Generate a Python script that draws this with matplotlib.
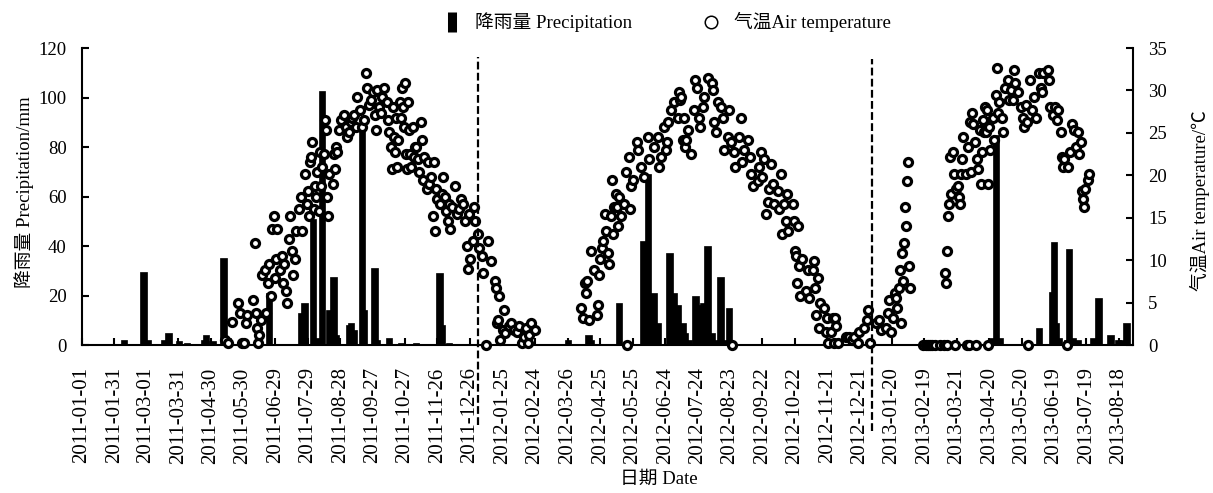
import pandas as pd
import matplotlib
matplotlib.use("Agg")
import matplotlib.pyplot as plt
import matplotlib.dates as mdates
from matplotlib.lines import Line2D

plt.rcParams["font.family"] = ["Liberation Serif", "Noto Sans CJK SC"]
plt.rcParams["font.size"] = 13.5
plt.rcParams["axes.unicode_minus"] = False

# ---- precipitation (mm), rain days only ----
rain_2011_dates = ["02-09", "02-27", "03-03", "03-18", "03-22", "04-01", "04-08", "04-24",
                   "04-26", "05-02", "05-12", "05-16", "06-23", "07-23", "07-26", "08-03",
                   "08-06", "08-11", "08-18", "08-22", "08-24", "09-05", "09-07", "09-10",
                   "09-17", "09-19", "09-29", "10-01", "10-12", "10-24", "11-06", "11-28",
                   "11-30", "12-07"]
rain_2011 = [2, 29.5, 2, 2, 5, 1.5, 1, 2, 4, 1.5, 35, 3, 21, 13, 17, 51, 3, 102.5, 14, 27.5,
             4, 8, 9, 6, 87, 14, 31, 2, 3, 1, 1, 29, 8, 1]

rain_2012_dates = ["03-26", "04-14", "04-16", "05-12", "06-04", "06-08", "06-13", "06-17",
                   "06-28", "07-02", "07-06", "07-10", "07-12", "07-16", "07-22", "07-25",
                   "07-29", "08-02", "08-06", "08-10", "08-14", "08-17", "08-22"]
rain_2012 = [2, 4, 2, 17, 42, 69, 21, 9, 37, 21, 16, 9, 5, 2, 20, 16, 17, 40, 5, 2, 27.5, 2, 15]

rain_2013_dates = ["04-22", "04-26", "04-30", "06-05", "06-17", "06-19", "06-21", "06-23",
                   "07-01", "07-03", "07-06", "07-11", "07-25", "07-30", "08-10", "08-17",
                   "08-21", "08-25"]
rain_2013 = [3, 85, 3, 7, 21.5, 41.5, 9, 3, 2, 39, 3, 2, 3, 19, 4, 2, 2, 9]

# ---- daily air temperature (deg C) ----
temp_2011_dates = [
    "05-13", "05-16", "05-20", "05-25", "05-27", "05-29", "05-31", "06-02", "06-03", "06-08",
    "06-10", "06-11", "06-12", "06-13", "06-14", "06-16", "06-17", "06-19", "06-20", "06-22",
    "06-23", "06-25", "06-26", "06-28", "06-29", "06-30", "07-01", "07-03", "07-05", "07-06",
    "07-07", "07-09", "07-10", "07-12", "07-13", "07-14", "07-15", "07-17", "07-18", "07-21",
    "07-23", "07-24", "07-26", "07-28", "07-29", "07-30", "07-31", "08-01", "08-02", "08-04",
    "08-05", "08-06", "08-07", "08-08", "08-09", "08-10", "08-11", "08-13", "08-14", "08-15",
    "08-16", "08-17", "08-18", "08-21", "08-22", "08-23", "08-24", "08-25", "08-27", "08-29",
    "09-01", "09-02", "09-03", "09-05", "09-07", "09-08", "09-10", "09-12", "09-13", "09-15",
    "09-17", "09-19", "09-21", "09-22", "09-24", "09-26", "09-27", "09-29", "09-30", "10-01",
    "10-03", "10-05", "10-06", "10-08", "10-10", "10-11", "10-12", "10-14", "10-15", "10-16",
    "10-17", "10-18", "10-19", "10-20", "10-21", "10-22", "10-23", "10-24", "10-25", "10-26",
    "10-27", "10-28", "10-29", "10-30", "10-31", "11-01", "11-02", "11-03", "11-04", "11-05",
    "11-06", "11-08", "11-09", "11-11", "11-12", "11-13", "11-14", "11-16", "11-17", "11-18",
    "11-20", "11-22", "11-23", "11-24", "11-25", "11-26", "11-28", "11-30", "12-01", "12-03",
    "12-04", "12-06", "12-07", "12-08", "12-10", "12-12", "12-14", "12-16", "12-18", "12-20",
    "12-22", "12-23", "12-24", "12-25", "12-26", "12-29", "12-30", "12-31"]
temp_2011 = [
    0.6, 0.3, 2.7, 5.0, 3.8, 0.3, 0.3, 2.6, 3.5, 5.3,
    12.0, 3.8, 2.0, 0.3, 1.2, 2.9, 8.2, 8.8, 3.8, 7.3,
    9.6, 5.8, 13.7, 15.2, 7.9, 10.2, 13.7, 8.8, 10.5, 7.3,
    9.6, 6.4, 5.0, 12.5, 15.2, 11.1, 8.2, 10.2, 13.4, 16.0,
    17.5, 13.4, 20.1, 16.6, 18.1, 15.2, 21.6, 22.2, 23.9, 16.0,
    18.7, 17.5, 20.4, 15.8, 22.8, 18.7, 21.0, 22.5, 26.5, 25.4,
    17.5, 15.2, 20.1, 19.0, 22.5, 20.7, 23.3, 22.8, 25.4, 26.5,
    27.1, 25.7, 24.5, 25.1, 26.3, 26.8, 27.1, 25.7, 29.2, 27.7,
    25.7, 26.5, 32.1, 30.3, 28.3, 28.9, 29.8, 27.1, 25.4, 30.0,
    28.0, 27.4, 29.2, 30.3, 28.6, 26.5, 25.1, 23.3, 20.7, 28.0,
    24.5, 22.8, 26.8, 21.0, 24.2, 28.6, 26.8, 30.3, 28.0, 25.7,
    30.9, 22.5, 20.7, 28.6, 25.4, 22.5, 21.0, 25.7, 22.2, 23.3,
    23.3, 21.9, 20.4, 26.3, 24.2, 19.5, 22.2, 18.4, 21.6, 19.0,
    19.8, 15.2, 21.6, 13.4, 18.4, 17.2, 16.6, 17.8, 19.8, 17.5,
    15.8, 14.6, 16.6, 13.7, 16.3, 18.7, 15.5, 16.0, 17.2, 16.6,
    14.6, 11.7, 9.0, 15.5, 10.2, 12.3, 16.3, 14.6]

temp_2012_dates = [
    "01-03", "01-04", "01-06", "01-07", "01-10", "01-12", "01-15", "01-18", "01-19", "01-20",
    "01-21", "01-22", "01-23", "01-26", "01-27", "01-28", "01-31", "02-02", "02-05", "02-08",
    "02-10", "02-12", "02-14", "02-16", "02-18", "02-19", "02-21", "02-24", "04-07", "04-09",
    "04-11", "04-12", "04-13", "04-14", "04-16", "04-19", "04-22", "04-23", "04-24", "04-25",
    "04-26", "04-27", "04-29", "04-30", "05-02", "05-03", "05-05", "05-06", "05-07", "05-08",
    "05-09", "05-10", "05-11", "05-12", "05-14", "05-17", "05-19", "05-20", "05-21", "05-22",
    "05-23", "05-25", "05-29", "05-30", "06-02", "06-04", "06-08", "06-09", "06-14", "06-17",
    "06-18", "06-20", "06-23", "06-25", "06-26", "06-27", "06-29", "07-02", "07-06", "07-07",
    "07-08", "07-09", "07-10", "07-11", "07-12", "07-13", "07-15", "07-18", "07-21", "07-22",
    "07-23", "07-25", "07-26", "07-29", "07-30", "08-03", "08-06", "08-07", "08-08", "08-10",
    "08-12", "08-15", "08-16", "08-17", "08-21", "08-22", "08-24", "08-25", "08-27", "08-28",
    "08-31", "09-02", "09-03", "09-05", "09-09", "09-10", "09-11", "09-13", "09-18", "09-19",
    "09-21", "09-22", "09-23", "09-25", "09-27", "09-28", "09-30", "10-02", "10-03", "10-06",
    "10-07", "10-09", "10-10", "10-12", "10-14", "10-15", "10-16", "10-20", "10-21", "10-22",
    "10-23", "10-24", "10-25", "10-26", "10-27", "10-29", "11-01", "11-03", "11-04", "11-08",
    "11-09", "11-10", "11-11", "11-12", "11-13", "11-14", "11-18", "11-20", "11-21", "11-22",
    "11-24", "11-26", "11-27", "11-28", "11-29", "12-01", "12-08", "12-11", "12-14", "12-16",
    "12-19", "12-20", "12-25", "12-28", "12-29", "12-31"]
temp_2012 = [
    13.1, 11.4, 10.5, 8.5, 0.0, 12.3, 9.9, 7.6, 6.7, 2.6,
    2.9, 5.8, 0.6, 1.8, 4.1, 1.4, 2.3, 2.6, 1.8, 1.5,
    2.3, 0.3, 0.9, 2.0, 0.3, 1.2, 2.6, 1.8, 4.4, 3.2,
    7.3, 6.1, 7.6, 2.9, 11.1, 8.8, 3.5, 4.7, 8.2, 10.2,
    11.4, 12.3, 15.5, 13.4, 10.8, 9.6, 15.2, 19.5, 13.1, 16.3,
    17.8, 16.3, 14.0, 17.5, 15.2, 16.6, 20.4, 0.0, 22.2, 16.0,
    18.7, 19.5, 23.9, 23.0, 21.0, 19.8, 24.5, 21.9, 23.3, 24.5,
    21.0, 22.2, 25.7, 23.0, 23.9, 26.3, 27.7, 28.6, 26.8, 29.8,
    28.9, 29.2, 24.2, 26.8, 23.3, 24.2, 25.4, 22.5, 27.7, 31.2,
    30.3, 26.8, 25.7, 28.0, 29.2, 31.5, 30.9, 30.0, 26.3, 25.1,
    28.6, 28.0, 26.8, 23.0, 24.5, 27.7, 23.9, 0.0, 22.8, 21.0,
    24.5, 26.8, 21.6, 23.0, 24.2, 22.2, 20.1, 18.7, 19.3, 21.0,
    22.8, 19.8, 21.9, 15.5, 16.9, 18.4, 21.3, 19.0, 16.6, 18.1,
    16.0, 20.1, 13.1, 16.6, 14.6, 17.8, 13.4, 16.6, 14.6, 11.1,
    10.5, 7.3, 14.0, 9.3, 5.8, 10.2, 6.4, 8.8, 5.5, 8.8,
    9.9, 6.7, 3.5, 7.9, 2.0, 5.0, 4.4, 1.5, 3.2, 0.3,
    1.5, 3.2, 0.3, 3.2, 2.3, 0.3, 0.9, 0.9, 0.6, 0.9,
    0.3, 1.5, 2.0, 2.9, 4.1, 0.3]

temp_2013_dates = [
    "01-05", "01-08", "01-10", "01-14", "01-16", "01-17", "01-19", "01-21", "01-23", "01-24",
    "01-25", "01-26", "01-27", "01-28", "01-29", "01-30", "01-31", "02-01", "02-02", "02-03",
    "02-04", "02-05", "02-06", "02-18", "02-20", "02-22", "02-24", "02-26", "03-01", "03-05",
    "03-09", "03-10", "03-11", "03-12", "03-12", "03-13", "03-14", "03-15", "03-16", "03-17",
    "03-18", "03-19", "03-20", "03-22", "03-23", "03-24", "03-25", "03-26", "03-27", "03-29",
    "03-30", "03-31", "04-01", "04-02", "04-03", "04-04", "04-05", "04-07", "04-08", "04-09",
    "04-10", "04-11", "04-12", "04-13", "04-14", "04-15", "04-16", "04-17", "04-18", "04-19",
    "04-19", "04-20", "04-21", "04-23", "04-24", "04-26", "04-27", "04-28", "04-29", "05-02",
    "05-03", "05-05", "05-07", "05-08", "05-10", "05-12", "05-13", "05-14", "05-17", "05-19",
    "05-21", "05-22", "05-24", "05-25", "05-26", "05-28", "05-30", "05-31", "06-02", "06-05",
    "06-07", "06-08", "06-09", "06-13", "06-14", "06-15", "06-18", "06-20", "06-22", "06-23",
    "06-25", "06-26", "06-27", "06-28", "07-01", "07-02", "07-04", "07-06", "07-07", "07-09",
    "07-11", "07-12", "07-14", "07-15", "07-16", "07-17", "07-18", "07-20", "07-21"]
temp_2013 = [
    2.6, 2.9, 1.8, 2.0, 3.8, 5.3, 1.5, 3.2, 6.1, 5.5,
    4.4, 6.7, 8.8, 2.6, 10.8, 7.6, 12.0, 16.3, 14.0, 19.3,
    21.6, 9.3, 6.7, 0.0, 0.0, 0.0, 0.0, 0.0, 0.0, 0.0,
    0.0, 8.5, 7.3, 11.1, 0.0, 15.2, 16.6, 22.2, 17.8, 22.8,
    20.1, 0.0, 18.4, 18.7, 17.5, 16.6, 20.1, 21.9, 24.5, 20.1,
    0.0, 23.3, 0.0, 26.3, 20.4, 27.4, 26.0, 23.9, 0.0, 21.9,
    20.7, 25.4, 19.0, 22.8, 26.5, 25.1, 28.0, 25.1, 27.7, 19.0,
    0.0, 25.7, 23.0, 26.8, 24.2, 29.5, 32.7, 27.4, 28.6, 26.8,
    25.1, 30.3, 31.2, 28.9, 30.0, 28.9, 32.4, 30.9, 29.8, 28.0,
    26.8, 25.7, 28.3, 26.3, 0.0, 31.2, 27.7, 29.2, 26.8, 32.1,
    30.3, 29.8, 32.1, 32.4, 31.2, 28.0, 27.1, 28.0, 26.5, 27.7,
    25.1, 22.2, 21.0, 21.9, 0.0, 21.0, 22.8, 26.0, 25.4, 23.3,
    25.1, 22.5, 23.9, 18.1, 17.2, 16.3, 18.4, 19.5, 20.1]

tick_labels = [
    "2011-01-01", "2011-01-31", "2011-03-01", "2011-03-31", "2011-04-30", "2011-05-30",
    "2011-06-29", "2011-07-29", "2011-08-28", "2011-09-27", "2011-10-27", "2011-11-26",
    "2011-12-26", "2012-01-25", "2012-02-24", "2012-03-26", "2012-04-25", "2012-05-25",
    "2012-06-24", "2012-07-24", "2012-08-23", "2012-09-22", "2012-10-22", "2012-11-21",
    "2012-12-21", "2013-01-20", "2013-02-19", "2013-03-21", "2013-04-20", "2013-05-20",
    "2013-06-19", "2013-07-19", "2013-08-18"]

year_breaks = ["2012-01-03", "2013-01-01"]


def to_num(year, mmdd):
    return mdates.date2num(pd.to_datetime([f"{year}-{d}" for d in mmdd]))


rain_x = list(to_num(2011, rain_2011_dates)) + list(to_num(2012, rain_2012_dates)) + \
    list(to_num(2013, rain_2013_dates))
rain_mm = rain_2011 + rain_2012 + rain_2013
temp_x = list(to_num(2011, temp_2011_dates)) + list(to_num(2012, temp_2012_dates)) + \
    list(to_num(2013, temp_2013_dates))
temp_c = temp_2011 + temp_2012 + temp_2013

fig = plt.figure(figsize=(12.13, 4.93), dpi=100)
ax = fig.add_axes([0.0676, 0.300, 0.8664, 0.6026])

ax.bar(rain_x, rain_mm, width=6, color="black", edgecolor="black", linewidth=0.5, zorder=2)
ax.set_ylim(0, 120)
ax.set_yticks(range(0, 121, 20))
ax.set_xlim(mdates.date2num(pd.Timestamp("2011-01-01")),
            mdates.date2num(pd.Timestamp("2013-08-31")))
ax.set_xticks(mdates.date2num(pd.to_datetime(tick_labels)))
ax.set_xticklabels(tick_labels, rotation=90, fontsize=15)
ax.set_ylabel("降雨量 Precipitation/mm")
ax.yaxis.set_label_coords(-0.0457, 0.515)
ax.set_xlabel("日期 Date")
ax.xaxis.set_label_coords(0.549, -0.424)

ax2 = ax.twinx()
ax2.plot(temp_x, temp_c, "o", ls="none", ms=5.8, mfc="white", mec="black", mew=2.3,
         clip_on=False, zorder=3)
ax2.set_ylim(0, 35)
ax2.set_yticks(range(0, 36, 5))
ax2.set_ylabel("气温Air temperature/℃")
ax2.yaxis.set_label_coords(1.054, 0.488)

for a in (ax, ax2):
    a.spines["top"].set_visible(False)
    for s in ("left", "right", "bottom"):
        a.spines[s].set_linewidth(1.5)
ax.spines["right"].set_visible(False)
ax2.spines["left"].set_visible(False)
ax2.spines["bottom"].set_visible(False)

ax.tick_params(axis="y", direction="in", length=5, width=1.5, pad=11)
ax.tick_params(axis="x", direction="in", length=5, width=1.5, pad=16)
ax2.tick_params(axis="y", direction="in", length=5, width=1.5, pad=11)

# year separators reaching into the date labels
ax2.axvline(mdates.date2num(pd.Timestamp(year_breaks[0])), ymin=-0.27, ymax=0.97,
            color="black", ls=(0, (3.5, 1.5)), lw=1.6, clip_on=False, zorder=4)
ax2.axvline(mdates.date2num(pd.Timestamp(year_breaks[1])), ymin=-0.29, ymax=0.963,
            color="black", ls=(0, (3.5, 1.5)), lw=1.6, clip_on=False, zorder=4)

h_rain = Line2D([], [], color="black", marker="|", ls="none", ms=15, mew=6.5)
h_temp = Line2D([], [], marker="o", ls="none", ms=9, mfc="white", mec="black", mew=1.1)
fig.legend([h_rain, h_temp], ["降雨量 Precipitation", "气温Air temperature"],
           loc="center", bbox_to_anchor=(0.5497, 0.955), ncol=2, frameon=False,
           handlelength=1, handletextpad=0.73, columnspacing=3.66, fontsize=13.5)

fig.savefig("out.png", dpi=100)
